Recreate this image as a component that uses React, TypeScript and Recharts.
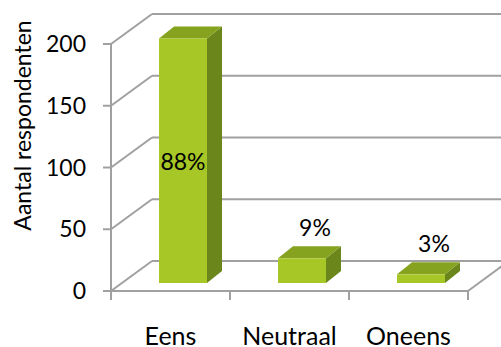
import { Bar, BarChart, CartesianGrid, LabelList, XAxis, YAxis } from 'recharts'

const categories = ['Eens', 'Neutraal', 'Oneens']
const respondents = [198, 20, 7]
const percentLabels = ['88%', '9%', '3%']
const yTicks = [0, 50, 100, 150, 200]

const data = categories.map((category, i) => ({
  category,
  value: respondents[i],
  pct: percentLabels[i],
}))

const W = 501
const H = 347
const X_AXIS_H = 30
const MARGIN = { top: 44, right: 33, bottom: 26, left: 51 }
const BASE_Y = H - MARGIN.bottom - X_AXIS_H

const GRID = '#a0a0a0'
const FONT = 'Lato, "Open Sans", sans-serif'

// depth of the back wall, and where the bars sit inside it
const WALL_DX = 41
const WALL_DY = -30
const BAR_SHIFT_X = 12
const BAR_SHIFT_Y = -8
const BAR_DX = 15
const BAR_DY = -12

const FRONT = '#a6c726'
const TOP = '#86a320'
const SIDE = '#6b861a'

function gridLine(p: any) {
  const { x1, x2, y1 } = p
  const isBase = Math.abs(y1 - BASE_Y) < 1
  return (
    <g key={p.key}>
      <line x1={x1} y1={y1} x2={x1 + WALL_DX} y2={y1 + WALL_DY} stroke={GRID} strokeWidth={2} />
      <line x1={x1 + WALL_DX} y1={y1 + WALL_DY} x2={W} y2={y1 + WALL_DY} stroke={GRID} strokeWidth={2} />
      {isBase && (
        <line x1={x2} y1={y1} x2={x2 + WALL_DX} y2={y1 + WALL_DY} stroke={GRID} strokeWidth={2} />
      )}
    </g>
  )
}

function Bar3D(props: any) {
  const { x, y, width, height } = props
  const fx = x + BAR_SHIFT_X
  const fy = y + BAR_SHIFT_Y
  const top = `${fx},${fy} ${fx + BAR_DX},${fy + BAR_DY} ${fx + width + BAR_DX},${fy + BAR_DY} ${fx + width},${fy}`
  const side = `${fx + width},${fy} ${fx + width + BAR_DX},${fy + BAR_DY} ${fx + width + BAR_DX},${fy + height + BAR_DY} ${fx + width},${fy + height}`
  return (
    <g>
      <polygon points={side} fill={SIDE} />
      <polygon points={top} fill={TOP} />
      <rect x={fx} y={fy} width={width} height={height} fill={FRONT} />
    </g>
  )
}

function PctLabel(props: any) {
  const { x, y, width, height, value } = props
  const fx = x + BAR_SHIFT_X
  const fy = y + BAR_SHIFT_Y
  const inside = height > 100
  return (
    <text
      x={inside ? fx + width / 2 : fx + width / 2 + 13}
      y={inside ? fy + height / 2 : fy - 31}
      textAnchor="middle"
      dominantBaseline="central"
      fontFamily={FONT}
      fontSize={23}
      fill="#000"
    >
      {value}
    </text>
  )
}

function CategoryTick(props: any) {
  const { x, y, payload, index } = props
  const bw = (W - MARGIN.left - MARGIN.right - 60) / categories.length
  return (
    <g>
      <line x1={x - bw / 2} y1={y} x2={x - bw / 2} y2={y + 9} stroke={GRID} strokeWidth={2} />
      {index === categories.length - 1 && (
        <line x1={x + bw / 2} y1={y} x2={x + bw / 2} y2={y + 9} stroke={GRID} strokeWidth={2} />
      )}
      <text x={x} y={y + 54} textAnchor="middle" fontFamily={FONT} fontSize={25} fill="#000">
        {payload.value}
      </text>
    </g>
  )
}

export default function App() {
  return (
    <div style={{ position: 'fixed', left: 0, top: 0, width: W, height: H, background: '#fff' }}>
      <BarChart width={W} height={H} data={data} margin={MARGIN}>
        <CartesianGrid horizontal={gridLine} vertical={false} />
        <XAxis
          dataKey="category"
          height={X_AXIS_H}
          axisLine={{ stroke: GRID, strokeWidth: 2 }}
          tickLine={false}
          tickSize={0}
          tickMargin={0}
          tick={<CategoryTick />}
          interval={0}
        />
        <YAxis
          width={60}
          domain={[0, 200]}
          ticks={yTicks}
          axisLine={{ stroke: GRID, strokeWidth: 2 }}
          tickLine={{ stroke: GRID, strokeWidth: 2 }}
          tickSize={8}
          tickMargin={17}
          tick={{ fill: '#000', fontSize: 23, fontFamily: FONT }}
          label={{
            value: 'Aantal respondenten',
            angle: -90,
            position: 'insideLeft',
            dx: -33,
            dy: -42,
            style: { textAnchor: 'middle', fontSize: 23, fontFamily: FONT, fill: '#000' },
          }}
        />
        <Bar dataKey="value" barSize={48} shape={<Bar3D />} isAnimationActive={false}>
          <LabelList dataKey="pct" content={<PctLabel />} />
        </Bar>
      </BarChart>
    </div>
  )
}
